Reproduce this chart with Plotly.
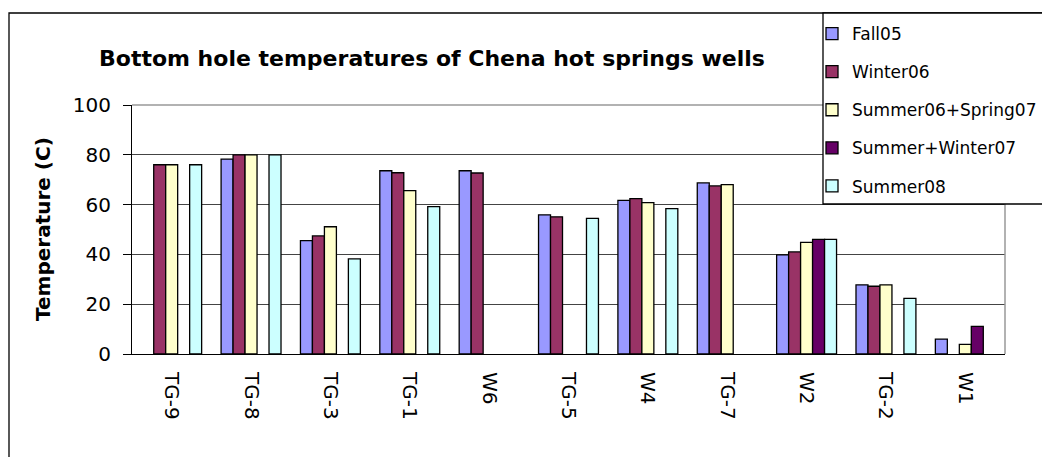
import plotly.graph_objects as go

wells = ["TG-9", "TG-8", "TG-3", "TG-1", "W6", "TG-5", "W4", "TG-7", "W2", "TG-2", "W1"]
fall05 = [None, 78.3, 45.5, 73.6, 73.6, 55.9, 61.7, 68.7, 39.8, 27.8, 6.0]
winter06 = [76, 80, 47.4, 72.8, 72.7, 55.1, 62.4, 67.5, 41.0, 27.2, None]
summer06_spring07 = [76, 80, 51.1, 65.6, None, None, 60.8, 68.0, 44.8, 27.8, 3.9]
summer_winter07 = [None, None, None, None, None, None, None, None, 46.0, None, 11.1]
summer08 = [76, 80, 38.2, 59.2, None, 54.5, 58.4, None, 46.0, 22.3, None]

series = [
    ("Fall05", fall05, "#9999FF"),
    ("Winter06", winter06, "#993366"),
    ("Summer06+Spring07", summer06_spring07, "#FFFFCC"),
    ("Summer+Winter07", summer_winter07, "#660066"),
    ("Summer08", summer08, "#CCFFFF"),
]

FONT = "DejaVu Sans"

fig = go.Figure()
for i, (name, vals, color) in enumerate(series):
    fig.add_trace(go.Bar(
        x=wells, y=vals, name=name, legendgroup=f"g{i}",
        marker=dict(color=color, line=dict(color="black", width=1.3)),
    ))

# The page body has an 8px margin, so the figure is drawn 8px in from the window.
OFF = 8
W, H = 1050 - OFF, 457 - OFF
L, R, T, B = 132 - OFF, 1005 - OFF, 105 - OFF, 354 - OFF
def px(x):
    return (x - OFF - L) / (R - L)
def py(y):
    return (B - (y - OFF)) / (B - T)

fig.update_layout(
    width=W, height=H,
    margin=dict(l=L, r=W - R, t=T, b=H - B, autoexpand=False),
    paper_bgcolor="white", plot_bgcolor="white",
    barmode="group", bargap=0.245, bargroupgap=0,
    font=dict(family=FONT, color="black"),
    showlegend=True,
    legend=dict(
        x=px(812), y=py(16), xanchor="left", yanchor="top",
        bgcolor="rgba(0,0,0,0)", borderwidth=0,
        font=dict(family=FONT, size=17, color="black"),
        tracegroupgap=13, itemwidth=30,
    ),
    xaxis=dict(
        showline=True, linecolor="black", linewidth=1,
        tickangle=90, ticks="", tickfont=dict(family=FONT, size=20),
        ticklabelstandoff=13, showgrid=False,
    ),
    yaxis=dict(
        range=[0, 100], dtick=20, showline=True, linecolor="black", linewidth=1,
        ticks="outside", ticklen=8, tickcolor="black",
        tickfont=dict(family=FONT, size=20), ticklabelstandoff=8,
        showgrid=True, gridcolor="#444444", gridwidth=1, zeroline=False,
    ),
    shapes=[
        dict(type="line", xref="paper", yref="paper", x0=0, x1=1, y0=1, y1=1,
             line=dict(color="#999999", width=1.5), layer="above"),
        dict(type="line", xref="paper", yref="paper", x0=1, x1=1, y0=0, y1=1,
             line=dict(color="#999999", width=1.5), layer="above"),
        dict(type="rect", xref="paper", yref="paper",
             x0=px(9), x1=px(1070), y0=py(480), y1=py(13),
             line=dict(color="black", width=1.3), fillcolor="rgba(0,0,0,0)", layer="above"),
        dict(type="rect", xref="paper", yref="paper",
             x0=px(823), x1=px(1070), y0=py(204), y1=py(13),
             line=dict(color="black", width=1.3), fillcolor="white", layer="above"),
    ],
    annotations=[
        dict(text="<b>Bottom hole temperatures of Chena hot springs wells</b>",
             xref="paper", yref="paper", x=px(432), y=py(59),
             xanchor="center", yanchor="middle", showarrow=False,
             font=dict(family=FONT, size=22, color="black")),
        dict(text="<b>Temperature (C)</b>", textangle=-90,
             xref="paper", yref="paper", x=px(43), y=py(229),
             xanchor="center", yanchor="middle", showarrow=False,
             font=dict(family=FONT, size=20, color="black")),
    ],
)

fig.write_html("out.html")
